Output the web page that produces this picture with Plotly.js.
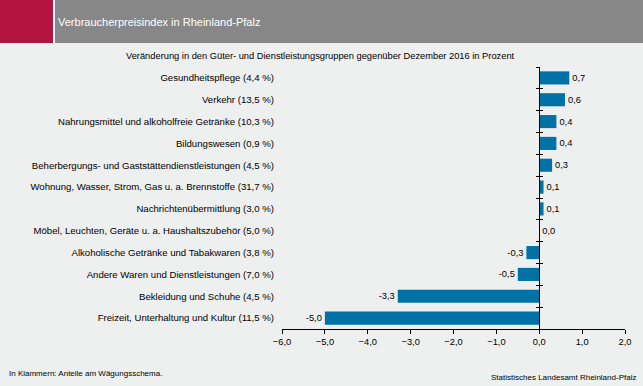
<!DOCTYPE html>
<html>
<head>
<meta charset="utf-8">
<script src="https://cdn.plot.ly/plotly-3.0.1.min.js"></script>
<style>html,body{margin:0;padding:0;background:#eeefef;}</style>
</head>
<body>
<div id="chart" style="width:643px;height:386px;"></div>
<script>
// ---- data ----
var categories = [
  "Gesundheitspflege (4,4 %)",
  "Verkehr (13,5 %)",
  "Nahrungsmittel und alkoholfreie Getränke (10,3 %)",
  "Bildungswesen (0,9 %)",
  "Beherbergungs- und Gaststättendienstleistungen (4,5 %)",
  "Wohnung, Wasser, Strom, Gas u. a. Brennstoffe (31,7 %)",
  "Nachrichtenübermittlung (3,0 %)",
  "Möbel, Leuchten, Geräte u. a. Haushaltszubehör (5,0 %)",
  "Alkoholische Getränke und Tabakwaren (3,8 %)",
  "Andere Waren und Dienstleistungen (7,0 %)",
  "Bekleidung und Schuhe (4,5 %)",
  "Freizeit, Unterhaltung und Kultur (11,5 %)"
];
var values = [0.7, 0.6, 0.4, 0.4, 0.3, 0.1, 0.1, 0.0, -0.3, -0.5, -3.3, -5.0];
var xTicks = [-6, -5, -4, -3, -2, -1, 0, 1, 2];

var headerTitle = "Verbraucherpreisindex in Rheinland-Pfalz";
var subTitle = "Veränderung in den Güter- und Dienstleistungsgruppen gegenüber Dezember 2016 in Prozent";
var footLeft = "In Klammern: Anteile am Wägungsschema.";
var footRight = "Statistisches Landesamt Rheinland-Pfalz";

// ---- layout geometry ----
var W = 643, H = 386;
var M = {l: 282, r: 18, t: 67, b: 57};
var pw = W - M.l - M.r, ph = H - M.t - M.b;
function px(x) { return (x - M.l) / pw; }
function py(y) { return (H - M.b - y) / ph; }

var FONT = "Liberation Sans, Arial, sans-serif";
var barColor = "#0072a5";
var nCat = categories.length;
var yRange = [nCat - 0.5, -0.5];

var main = {
  type: "bar", orientation: "h",
  x: values, y: categories,
  marker: {color: barColor},
  text: values,
  texttemplate: "%{x:.1f}",
  textposition: "outside",
  cliponaxis: false,
  textfont: {family: FONT, size: 9.3, color: "#000"},
  hoverinfo: "skip", showlegend: false
};
var ghost2 = {type: "bar", orientation: "h", x: values, y: categories, yaxis: "y2",
  opacity: 0, hoverinfo: "skip", showlegend: false};
var ghost3 = {type: "bar", orientation: "h", x: values, y: categories, yaxis: "y3",
  opacity: 0, hoverinfo: "skip", showlegend: false};

var zeroPos = (0 - (-6)) / (2 - (-6));

var layout = {
  width: W, height: H,
  margin: M,
  paper_bgcolor: "#eeefef",
  plot_bgcolor: "rgba(0,0,0,0)",
  separators: ",.",
  bargap: 0.4,
  font: {family: FONT, size: 9, color: "#000"},
  xaxis: {
    range: [-6, 2], tickvals: xTicks, tickformat: ".1f",
    showline: true, linecolor: "#000", linewidth: 1,
    ticks: "outside", ticklen: 4, tickcolor: "#000",
    showgrid: false, zeroline: false,
    tickfont: {family: FONT, size: 9.3, color: "#000"}
  },
  yaxis: {
    type: "category", range: yRange,
    showline: false, ticks: "", showgrid: false, zeroline: false,
    ticklabelstandoff: 7,
    tickfont: {family: FONT, size: 9.6, color: "#000"}
  },
  yaxis2: {
    type: "category", range: yRange, overlaying: "y", anchor: "free", position: zeroPos,
    side: "left", showline: true, linecolor: "#000", linewidth: 1,
    ticks: "outside", ticklen: 3, tickcolor: "#000", tickson: "boundaries",
    showticklabels: false, showgrid: false, zeroline: false
  },
  yaxis3: {
    type: "category", range: yRange, overlaying: "y", anchor: "free", position: zeroPos,
    side: "left", showline: false,
    ticks: "inside", ticklen: 3, tickcolor: "#000", tickson: "boundaries",
    showticklabels: false, showgrid: false, zeroline: false
  },
  shapes: [
    {type: "rect", xref: "paper", yref: "paper", x0: px(0), x1: px(W), y0: py(43), y1: py(0),
     fillcolor: "#ffffff", line: {width: 0}, layer: "below"},
    {type: "rect", xref: "paper", yref: "paper", x0: px(0), x1: px(53), y0: py(43), y1: py(0),
     fillcolor: "#b5133f", line: {width: 0}, layer: "below"},
    {type: "rect", xref: "paper", yref: "paper", x0: px(55), x1: px(W), y0: py(43), y1: py(0),
     fillcolor: "#878787", line: {width: 0}, layer: "below"}
  ],
  annotations: [
    {text: headerTitle, xref: "paper", yref: "paper", x: px(56), y: py(22),
     xanchor: "left", yanchor: "middle", showarrow: false,
     font: {family: FONT, size: 11, color: "#ffffff"}},
    {text: subTitle, xref: "paper", yref: "paper", x: px(320), y: py(56),
     xanchor: "center", yanchor: "middle", showarrow: false,
     font: {family: FONT, size: 9.3, color: "#000"}},
    {text: footLeft, xref: "paper", yref: "paper", x: px(7), y: py(373),
     xanchor: "left", yanchor: "middle", showarrow: false,
     font: {family: FONT, size: 8, color: "#000"}},
    {text: footRight, xref: "paper", yref: "paper", x: px(638), y: py(377),
     xanchor: "right", yanchor: "middle", showarrow: false,
     font: {family: FONT, size: 8, color: "#000"}}
  ]
};

Plotly.newPlot("chart", [main, ghost2, ghost3], layout, {displayModeBar: false, staticPlot: true});
</script>
</body>
</html>
